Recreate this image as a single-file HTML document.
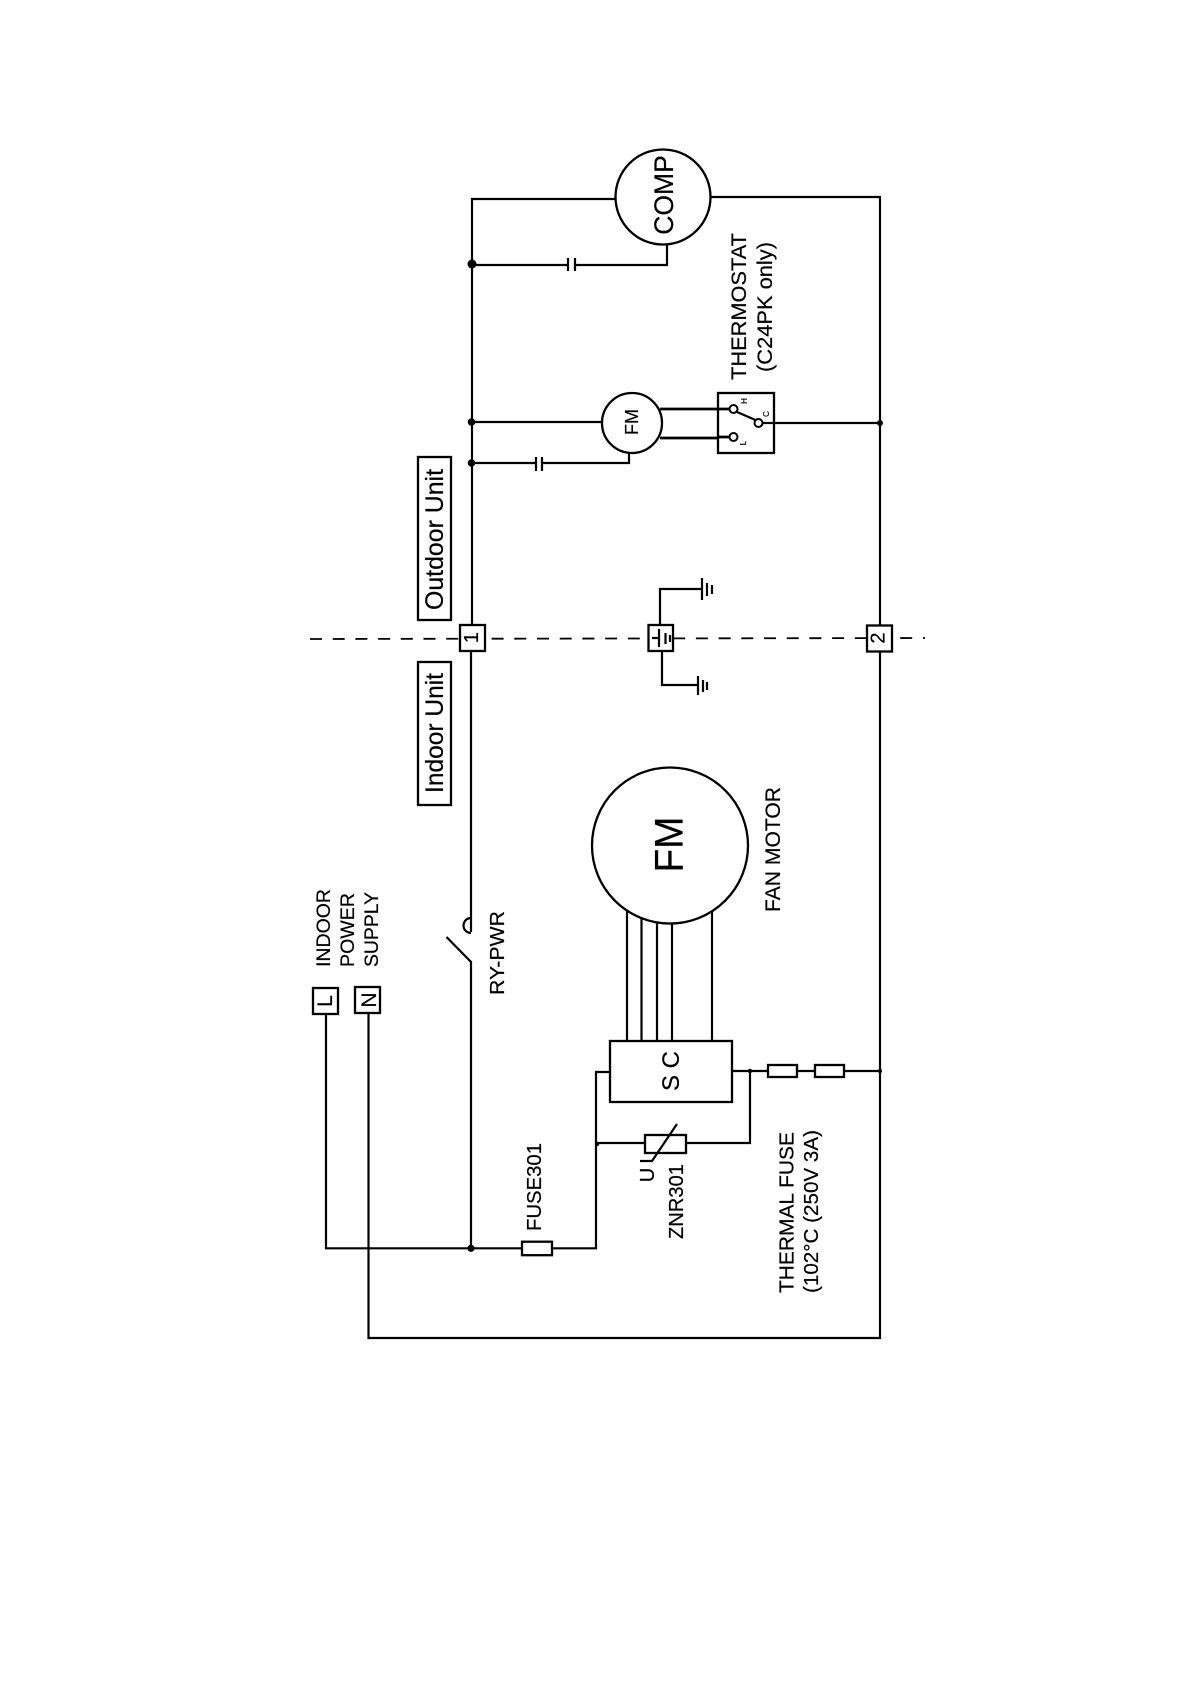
<!DOCTYPE html>
<html>
<head>
<meta charset="utf-8">
<style>
html,body{margin:0;padding:0;background:#fff;}
svg{display:block;filter:blur(0.35px);}
text{font-family:"Liberation Sans",Arial,sans-serif;fill:#000;stroke:#000;stroke-width:0.2;}
.w{fill:none;stroke:#000;stroke-width:2.2;}
.b{fill:#fff;stroke:#000;stroke-width:2.3;}
.t{fill:none;stroke:#000;stroke-width:2.8;}
</style>
</head>
<body>
<svg width="1190" height="1684" viewBox="0 0 1190 1684" xmlns="http://www.w3.org/2000/svg">
<rect width="1190" height="1684" fill="#fff"/>

<!-- dashed divider -->
<line x1="310" y1="639" x2="925" y2="638" stroke="#000" stroke-width="1.8" stroke-dasharray="12 10.7"/>

<!-- main wiring -->
<path class="w" d="M618 199H472V624"/>
<path class="w" d="M471 651V932"/>
<path class="w" d="M471 918A7.5 7.5 0 0 0 471 933" />
<path class="w" d="M446.5 937L471 962V1248"/>
<path class="w" d="M711 197H880V625"/>
<path class="w" d="M880 651V1344H370V1013" style="display:none"/>
<path class="w" d="M880 651V1345H370V1013" style="display:none"/>
<path class="w" d="M880 651V1338H368.5V1013"/>
<path class="w" d="M326 1014V1248.3H596V1072H610"/>

<!-- compressor capacitor -->
<path class="w" d="M472 265H568M575 265H667V245"/>
<path class="w" d="M568 258V271M575 258V271"/>

<!-- small FM wiring -->
<path class="w" d="M472 422H602"/>
<path class="w" d="M472 463H536M542 463H629V453"/>
<path class="w" d="M536 457V471M542 457V471"/>
<path class="t" d="M660 409H730M660 438H730"/>
<path class="w" d="M763 423H880"/>

<!-- motor leads -->
<path class="w" d="M627 890V1041M641.5 890V1041M657 890V1041M672 890V1041M712 890V1041"/>

<!-- SC right side wires -->
<path class="w" d="M732 1071H880"/>
<path class="w" d="M750 1071V1143H686M645 1143H597"/>

<!-- junctions -->
<circle cx="472" cy="264" r="4.5" fill="#000"/>
<circle cx="471.5" cy="422" r="3.8" fill="#000"/>
<circle cx="471.5" cy="463" r="3.8" fill="#000"/>
<circle cx="880" cy="423" r="3" fill="#000"/>
<circle cx="471" cy="1248.3" r="3.6" fill="#000"/>
<circle cx="750" cy="1071" r="2.2" fill="#000"/>
<circle cx="597" cy="1144" r="2.2" fill="#000"/>
<circle cx="880" cy="1071" r="2" fill="#000"/>

<!-- COMP -->
<circle class="b" cx="663" cy="197" r="47.5"/>
<text transform="translate(673,195) rotate(-90)" font-size="26.5" text-anchor="middle">COMP</text>

<!-- small FM -->
<circle class="b" cx="632" cy="423" r="30"/>
<text transform="translate(638,422) rotate(-90)" font-size="18" text-anchor="middle">FM</text>

<!-- thermostat -->
<rect class="b" x="718" y="393" width="56" height="60"/>
<path class="t" d="M718 409H730M718 437H730" />
<circle cx="733.5" cy="409" r="4" fill="#fff" stroke="#000" stroke-width="2"/>
<circle cx="733.5" cy="437" r="4" fill="#fff" stroke="#000" stroke-width="2"/>
<circle cx="758.5" cy="423" r="4" fill="#fff" stroke="#000" stroke-width="2"/>
<path class="w" d="M737 412L755.5 420"/>
<path class="w" d="M763 423H774"/>
<text transform="translate(747,401) rotate(-90)" font-size="8" text-anchor="middle">H</text>
<text transform="translate(769,414) rotate(-90)" font-size="8" text-anchor="middle">C</text>
<text transform="translate(746,443) rotate(-90)" font-size="8" text-anchor="middle">L</text>
<text transform="translate(746,380) rotate(-90)" font-size="21" textLength="147" lengthAdjust="spacingAndGlyphs">THERMOSTAT</text>
<text transform="translate(772,372) rotate(-90)" font-size="21.5" textLength="130" lengthAdjust="spacingAndGlyphs">(C24PK only)</text>

<!-- unit labels -->
<rect x="418" y="457" width="33" height="163" fill="#fff" stroke="#000" stroke-width="2.3"/>
<text transform="translate(443,610) rotate(-90)" font-size="25" textLength="141" lengthAdjust="spacingAndGlyphs">Outdoor Unit</text>
<rect x="418" y="662" width="33" height="143" fill="#fff" stroke="#000" stroke-width="2.3"/>
<text transform="translate(443,793) rotate(-90)" font-size="25" textLength="120" lengthAdjust="spacingAndGlyphs">Indoor Unit</text>

<!-- terminals -->
<rect class="b" x="460" y="625" width="25" height="26"/>
<text transform="translate(478,637.5) rotate(-90)" font-size="20" text-anchor="middle">1</text>
<rect class="b" x="867" y="625.5" width="25" height="26"/>
<text transform="translate(884.5,638) rotate(-90)" font-size="20" text-anchor="middle">2</text>

<!-- earth box -->
<path class="w" d="M660 625V589H702"/>
<path class="w" d="M662 651V685H698"/>
<rect class="b" x="648.5" y="625" width="24.5" height="26"/>
<path class="w" d="M652 638H659M659 629V647" />
<path class="w" d="M665.5 633V644M670 635V642" stroke-width="1.6"/>
<path class="w" d="M702 578V600M707 583V596M712 585V594"/>
<path class="w" d="M698 676V695M703 680V692M707 682V690"/>

<!-- big FM -->
<circle class="b" cx="670" cy="845.5" r="78"/>
<text transform="translate(682.5,844.5) rotate(-90)" font-size="40" text-anchor="middle" textLength="56" lengthAdjust="spacingAndGlyphs">FM</text>
<text transform="translate(780,912) rotate(-90)" font-size="21" textLength="125" lengthAdjust="spacingAndGlyphs">FAN MOTOR</text>

<!-- power supply -->
<text transform="translate(330,967) rotate(-90)" font-size="19.5" textLength="78" lengthAdjust="spacingAndGlyphs">INDOOR</text>
<text transform="translate(354,967) rotate(-90)" font-size="19.5" textLength="74" lengthAdjust="spacingAndGlyphs">POWER</text>
<text transform="translate(378,967) rotate(-90)" font-size="19.5" textLength="75" lengthAdjust="spacingAndGlyphs">SUPPLY</text>
<rect class="b" x="313" y="988" width="25" height="26"/>
<text transform="translate(332,1001) rotate(-90)" font-size="21" text-anchor="middle">L</text>
<rect class="b" x="355" y="987" width="25" height="26"/>
<text transform="translate(376,1000) rotate(-90)" font-size="21" text-anchor="middle">N</text>

<text transform="translate(504,995) rotate(-90)" font-size="20.5" textLength="84" lengthAdjust="spacingAndGlyphs">RY-PWR</text>

<!-- SC box -->
<rect class="b" x="610" y="1041" width="122" height="61"/>
<text transform="translate(679,1091) rotate(-90)" font-size="24" xml:space="preserve">S C</text>

<!-- thermal fuses -->
<rect class="b" x="768" y="1065" width="29" height="12"/>
<rect class="b" x="815" y="1065" width="29" height="12"/>

<!-- ZNR -->
<rect class="b" x="645" y="1135" width="41" height="18"/>
<path class="w" d="M677 1124L652 1161H640" stroke-width="1.6"/>
<text transform="translate(654,1175) rotate(-90)" font-size="20" text-anchor="middle">U</text>
<text transform="translate(683,1239) rotate(-90)" font-size="20" textLength="75" lengthAdjust="spacingAndGlyphs">ZNR301</text>

<!-- fuse 301 -->
<rect class="b" x="522" y="1241.7" width="30" height="13.5"/>
<text transform="translate(541,1231) rotate(-90)" font-size="20" textLength="88" lengthAdjust="spacingAndGlyphs">FUSE301</text>

<text transform="translate(793.5,1293) rotate(-90)" font-size="20" textLength="161" lengthAdjust="spacingAndGlyphs">THERMAL FUSE</text>
<text transform="translate(818,1293) rotate(-90)" font-size="20" textLength="163" lengthAdjust="spacingAndGlyphs">(102°C (250V 3A)</text>
</svg>
</body>
</html>
